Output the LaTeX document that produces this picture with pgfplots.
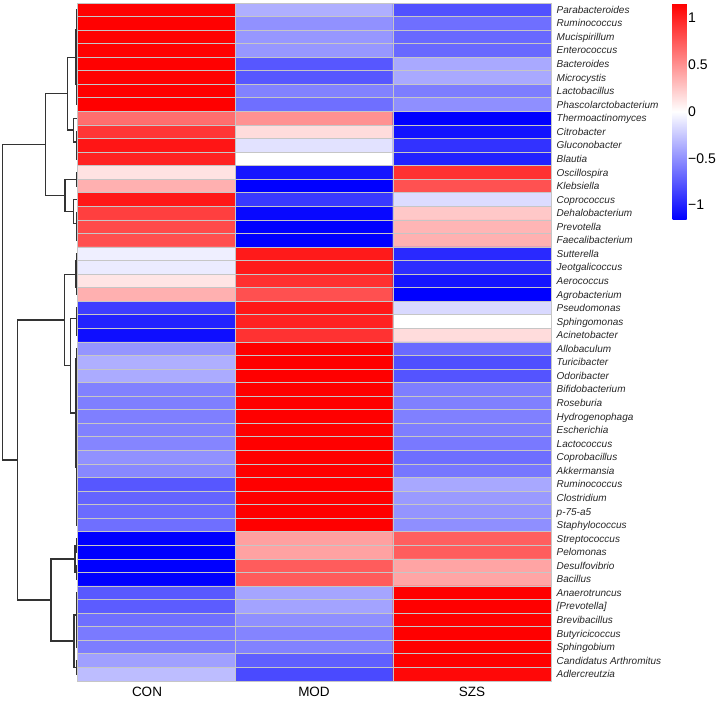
\documentclass[border=0pt]{standalone}
\usepackage{pgfplots}
\pgfplotsset{compat=1.18}
\usepackage{pgfplotstable}
\usepackage{fontspec}
\setmainfont{Liberation Sans}

\pgfplotsset{colormap={bwr}{rgb255(0cm)=(0,0,255); rgb255(1cm)=(255,255,255); rgb255(2cm)=(255,0,0)}}

\pgfplotstableread{
x y z
1 1 1.15
2 1 -0.36
3 1 -0.79
1 2 1.15
2 2 -0.50
3 2 -0.65
1 3 1.15
2 3 -0.47
3 3 -0.68
1 4 1.15
2 4 -0.47
3 4 -0.68
1 5 1.15
2 5 -0.76
3 5 -0.39
1 6 1.15
2 6 -0.76
3 6 -0.39
1 7 1.155
2 7 -0.565
3 7 -0.59
1 8 1.155
2 8 -0.65
3 8 -0.505
1 9 0.66
2 9 0.50
3 9 -1.155
1 10 0.91
2 10 0.16
3 10 -1.07
1 11 1.06
2 11 -0.13
3 11 -0.93
1 12 1.0
2 12 0.0
3 12 -1.0
1 13 0.13
2 13 -1.06
3 13 0.93
1 14 0.36
2 14 -1.155
3 14 0.79
1 15 1.05
2 15 -0.89
3 15 -0.16
1 16 0.87
2 16 -1.12
3 16 0.25
1 17 0.82
2 17 -1.155
3 17 0.335
1 18 0.80
2 18 -1.155
3 18 0.355
1 19 -0.07
2 19 1.04
3 19 -0.97
1 20 -0.09
2 20 1.04
3 20 -0.95
1 21 0.12
2 21 0.94
3 21 -1.06
1 22 0.36
2 22 0.795
3 22 -1.155
1 23 -0.88
2 23 1.05
3 23 -0.17
1 24 -1.0
2 24 1.0
3 24 0.0
1 25 -1.09
2 25 0.93
3 25 0.16
1 26 -0.48
2 26 1.155
3 26 -0.675
1 27 -0.36
2 27 1.155
3 27 -0.795
1 28 -0.38
2 28 1.155
3 28 -0.775
1 29 -0.57
2 29 1.155
3 29 -0.585
1 30 -0.58
2 30 1.155
3 30 -0.575
1 31 -0.58
2 31 1.155
3 31 -0.575
1 32 -0.57
2 32 1.155
3 32 -0.585
1 33 -0.55
2 33 1.155
3 33 -0.605
1 34 -0.50
2 34 1.155
3 34 -0.655
1 35 -0.54
2 35 1.155
3 35 -0.615
1 36 -0.76
2 36 1.155
3 36 -0.395
1 37 -0.70
2 37 1.155
3 37 -0.455
1 38 -0.67
2 38 1.155
3 38 -0.485
1 39 -0.65
2 39 1.155
3 39 -0.505
1 40 -1.155
2 40 0.43
3 40 0.725
1 41 -1.155
2 41 0.42
3 41 0.735
1 42 -1.155
2 42 0.74
3 42 0.415
1 43 -1.155
2 43 0.745
3 43 0.41
1 44 -0.75
2 44 -0.405
3 44 1.155
1 45 -0.74
2 45 -0.415
3 45 1.155
1 46 -0.65
2 46 -0.505
3 46 1.155
1 47 -0.60
2 47 -0.555
3 47 1.155
1 48 -0.59
2 48 -0.565
3 48 1.155
1 49 -0.43
2 49 -0.725
3 49 1.155
1 50 -0.30
2 50 -0.82
3 50 1.12
}\heat

\begin{document}
\begin{tikzpicture}
\path[use as bounding box] (0pt,0pt) rectangle (724pt,703pt);

% dendrogram
\begin{axis}[
  at={(0pt,22pt)}, anchor=south west, scale only axis,
  width=77pt, height=678pt,
  xmin=0, xmax=77, x dir=reverse,
  ymin=0.5, ymax=50.5, y dir=reverse,
  hide axis, clip=false,
  dend/.style={black!80, line width=1.4pt, no marks, line join=miter},
]
% cluster A1
\addplot[dend] coordinates {(0,1) (0.3,1) (0.3,2) (0,2)};
\addplot[dend] coordinates {(0,3) (0.3,3) (0.3,4) (0,4)};
\addplot[dend] coordinates {(0.3,1.5) (0.6,1.5) (0.6,3.5) (0.3,3.5)};
\addplot[dend] coordinates {(0,5) (0.3,5) (0.3,6) (0,6)};
\addplot[dend] coordinates {(0,7) (0.3,7) (0.3,8) (0,8)};
\addplot[dend] coordinates {(0.3,5.5) (0.6,5.5) (0.6,7.5) (0.3,7.5)};
\addplot[dend] coordinates {(0.6,2.5) (1.0,2.5) (1.0,6.5) (0.6,6.5)};
% cluster A2
\addplot[dend] coordinates {(0,11) (0.3,11) (0.3,12) (0,12)};
\addplot[dend] coordinates {(0,10) (0.6,10) (0.6,11.5) (0.3,11.5)};
\addplot[dend] coordinates {(0,9) (3.7,9) (3.7,10.75) (0.6,10.75)};
% A
\addplot[dend] coordinates {(1.0,4.5) (9.3,4.5) (9.3,9.875) (3.7,9.875)};
% B
\addplot[dend] coordinates {(0,13) (0.3,13) (0.3,14) (0,14)};
\addplot[dend] coordinates {(0,17) (0.3,17) (0.3,18) (0,18)};
\addplot[dend] coordinates {(0,16) (0.6,16) (0.6,17.5) (0.3,17.5)};
\addplot[dend] coordinates {(0,15) (3.7,15) (3.7,16.75) (0.6,16.75)};
\addplot[dend] coordinates {(0.3,13.5) (12,13.5) (12,15.875) (3.7,15.875)};
% top
\addplot[dend] coordinates {(9.3,7.19) (31.3,7.19) (31.3,14.69) (12,14.69)};
% C1
\addplot[dend] coordinates {(0,19) (0.3,19) (0.3,20) (0,20)};
\addplot[dend] coordinates {(0,21) (0.5,21) (0.5,22) (0,22)};
\addplot[dend] coordinates {(0.3,19.5) (1.0,19.5) (1.0,21.5) (0.5,21.5)};
% C2a
\addplot[dend] coordinates {(0,24) (0.2,24) (0.2,25) (0,25)};
\addplot[dend] coordinates {(0,23) (0.5,23) (0.5,24.5) (0.2,24.5)};
% C2b
\addplot[dend] coordinates {(0,27) (0.3,27) (0.3,28) (0,28)};
\addplot[dend] coordinates {(0,26) (0.6,26) (0.6,27.5) (0.3,27.5)};
\addplot[dend] coordinates {(0,29) (0.2,29) (0.2,30) (0,30)};
\addplot[dend] coordinates {(0,31) (0.2,31) (0.2,32) (0,32)};
\addplot[dend] coordinates {(0.2,29.5) (0.3,29.5) (0.3,31.5) (0.2,31.5)};
\addplot[dend] coordinates {(0,33) (0.2,33) (0.2,34) (0,34)};
\addplot[dend] coordinates {(0.2,33.5) (0.3,33.5) (0.3,35) (0,35)};
\addplot[dend] coordinates {(0.3,30.5) (0.4,30.5) (0.4,34.25) (0.3,34.25)};
\addplot[dend] coordinates {(0,37) (0.2,37) (0.2,38) (0,38)};
\addplot[dend] coordinates {(0.2,37.5) (0.3,37.5) (0.3,39) (0,39)};
\addplot[dend] coordinates {(0,36) (0.4,36) (0.4,38.25) (0.3,38.25)};
\addplot[dend] coordinates {(0.4,32.375) (0.6,32.375) (0.6,37.125) (0.4,37.125)};
\addplot[dend] coordinates {(0.6,26.75) (1.0,26.75) (1.0,34.75) (0.6,34.75)};
% C2, C
\addplot[dend] coordinates {(0.5,23.75) (6.7,23.75) (6.7,30.75) (1.0,30.75)};
\addplot[dend] coordinates {(1.0,20.5) (12.7,20.5) (12.7,27.25) (6.7,27.25)};
% D1
\addplot[dend] coordinates {(0,40) (0.3,40) (0.3,41) (0,41)};
\addplot[dend] coordinates {(0,42) (0.3,42) (0.3,43) (0,43)};
\addplot[dend] coordinates {(0.3,40.5) (2.0,40.5) (2.0,42.5) (0.3,42.5)};
% D2
\addplot[dend] coordinates {(0,44) (0.2,44) (0.2,45) (0,45)};
\addplot[dend] coordinates {(0,47) (0.2,47) (0.2,48) (0,48)};
\addplot[dend] coordinates {(0,46) (0.3,46) (0.3,47.5) (0.2,47.5)};
\addplot[dend] coordinates {(0.2,44.5) (0.5,44.5) (0.5,46.75) (0.3,46.75)};
\addplot[dend] coordinates {(0,49) (0.4,49) (0.4,50) (0,50)};
\addplot[dend] coordinates {(0.5,45.625) (3.0,45.625) (3.0,49.5) (0.4,49.5)};
% D
\addplot[dend] coordinates {(2.0,41.5) (26,41.5) (26,47.56) (3.0,47.56)};
% bottom
\addplot[dend] coordinates {(12.7,23.875) (59.7,23.875) (59.7,44.53) (26,44.53)};
% root
\addplot[dend] coordinates {(31.3,10.94) (74.3,10.94) (74.3,34.2) (59.7,34.2)};
\end{axis}

% heatmap
\begin{axis}[
  at={(77pt,22pt)}, anchor=south west, scale only axis,
  width=474pt, height=678pt,
  xmin=0.5, xmax=3.5, ymin=0.5, ymax=50.5, y dir=reverse,
  axis on top,
  axis line style={draw=gray!45, line width=0.9pt},
  xtick={1,2,3},
  xticklabels={\makebox[0pt][c]{CON\hspace{18pt}}, MOD, SZS},
  ytick={1,...,50},
  yticklabels={Parabacteroides, Ruminococcus, Mucispirillum, Enterococcus, Bacteroides, Microcystis, Lactobacillus, Phascolarctobacterium, Thermoactinomyces, Citrobacter, Gluconobacter, Blautia, Oscillospira, Klebsiella, Coprococcus, Dehalobacterium, Prevotella, Faecalibacterium, Sutterella, Jeotgalicoccus, Aerococcus, Agrobacterium, Pseudomonas, Sphingomonas, Acinetobacter, Allobaculum, Turicibacter, Odoribacter, Bifidobacterium, Roseburia, Hydrogenophaga, Escherichia, Lactococcus, Coprobacillus, Akkermansia, Ruminococcus, Clostridium, p-75-a5, Staphylococcus, Streptococcus, Pelomonas, Desulfovibrio, Bacillus, Anaerotruncus, {[Prevotella]}, Brevibacillus, Butyricicoccus, Sphingobium, Candidatus Arthromitus, Adlercreutzia},
  yticklabel pos=right,
  major tick length=0pt, minor tick length=0pt,
  minor x tick num=1, minor y tick num=1,
  xminorgrids, yminorgrids,
  minor grid style={draw=gray!45, line width=0.9pt},
  xticklabel style={font=\fontsize{13.5}{15}\selectfont, inner sep=0pt, yshift=-6pt, text=black},
  yticklabel style={font=\fontsize{10}{12}\selectfont\itshape, inner sep=0pt, anchor=base west, xshift=5.5pt, yshift=-3.5pt, text=black!85},
  colormap name=bwr,
  point meta min=-1.155, point meta max=1.155,
  colorbar,
  colorbar style={
    scale only axis, width=14pt, height=216pt,
    at={(parent axis.north east)}, anchor=north west, xshift=113pt, yshift=-0.5pt,
    ytick={-1,-0.5,0,0.5,1},
    yticklabels={−1,−0.5,0,0.5,1},
    major tick length=0pt,
    axis line style={draw=none},
    yticklabel style={font=\fontsize{14}{16}\selectfont, inner sep=0pt, anchor=west, xshift=1.5pt},
  },
]
\addplot[matrix plot*, mesh/cols=3, point meta=explicit] table[x=x, y=y, meta=z] {\heat};
\end{axis}
\end{tikzpicture}
\end{document}
